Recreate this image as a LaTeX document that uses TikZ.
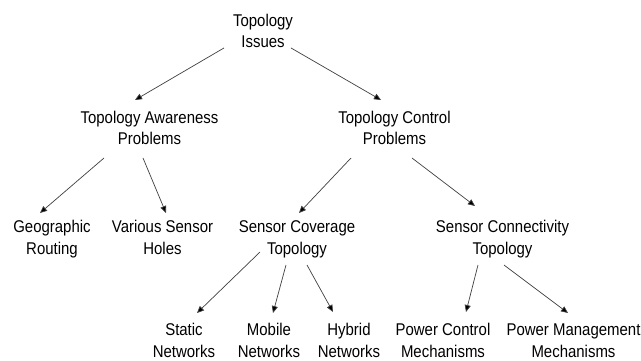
\documentclass[tikz,border=0pt]{standalone}
\usepackage{fontspec}
\setmainfont{Liberation Sans}[FakeStretch=0.88]
\usetikzlibrary{arrows.meta}
\newcommand\twol[2]{\strut#1\\\strut#2}
\tikzset{
  lbl/.style={align=center, inner sep=0pt, text=black,
    font=\fontsize{17}{21.5}\selectfont},
  arr/.style={draw=black!75, line width=0.7pt,
    -{Triangle[length=7pt,width=6pt,fill=black]}}
}
\begin{document}
\begin{tikzpicture}[x=1pt,y=-1pt]
\useasboundingbox[fill=white] (0,0) rectangle (641,360);
\node[lbl] (iss) at (263,32.45) {\twol{Topology}{Issues}};
\node[lbl] (aw)  at (149.5,129.85) {\twol{Topology Awareness}{Problems}};
\node[lbl] (ctl) at (394.5,129.85) {\twol{Topology Control}{Problems}};
\node[lbl] (geo) at (52,238.95) {\twol{Geographic}{Routing}};
\node[lbl] (var) at (162.5,238.95) {\twol{Various Sensor}{Holes}};
\node[lbl] (cov) at (297,238.95) {\twol{Sensor Coverage}{Topology}};
\node[lbl] (con) at (502.5,238.95) {\twol{Sensor Connectivity}{Topology}};
\node[lbl] (sta) at (184,341.95) {\twol{Static}{Networks}};
\node[lbl] (mob) at (269,341.95) {\twol{Mobile}{Networks}};
\node[lbl] (hyb) at (349,341.95) {\twol{Hybrid}{Networks}};
\node[lbl] (pc)  at (443,341.95) {\twol{Power Control}{Mechanisms}};
\node[lbl] (pm)  at (573.5,341.95) {\twol{Power Management}{Mechanisms}};
\draw[arr] ([shift={(-39,15.5)}]iss.center) -- ([shift={(-14.5,-29.85)}]aw.center);
\draw[arr] ([shift={(28,15.5)}]iss.center) -- ([shift={(-13.5,-29.85)}]ctl.center);
\draw[arr] ([shift={(-45.5,28.15)}]aw.center) -- ([shift={(-12,-25.95)}]geo.center);
\draw[arr] ([shift={(-6.5,28.15)}]aw.center) -- ([shift={(3.5,-25.95)}]var.center);
\draw[arr] ([shift={(-43.5,28.15)}]ctl.center) -- ([shift={(2,-25.95)}]cov.center);
\draw[arr] ([shift={(17.5,28.15)}]ctl.center) -- ([shift={(-27.5,-32.95)}]con.center);
\draw[arr] ([shift={(-37,13.05)}]cov.center) -- ([shift={(13,-28.95)}]sta.center);
\draw[arr] ([shift={(-11,26.05)}]cov.center) -- ([shift={(4,-28.95)}]mob.center);
\draw[arr] ([shift={(10,26.05)}]cov.center) -- ([shift={(-16,-29.95)}]hyb.center);
\draw[arr] ([shift={(-24.5,26.05)}]con.center) -- ([shift={(23,-29.95)}]pc.center);
\draw[arr] ([shift={(1.5,26.05)}]con.center) -- ([shift={(-5.5,-28.95)}]pm.center);
\end{tikzpicture}
\end{document}
